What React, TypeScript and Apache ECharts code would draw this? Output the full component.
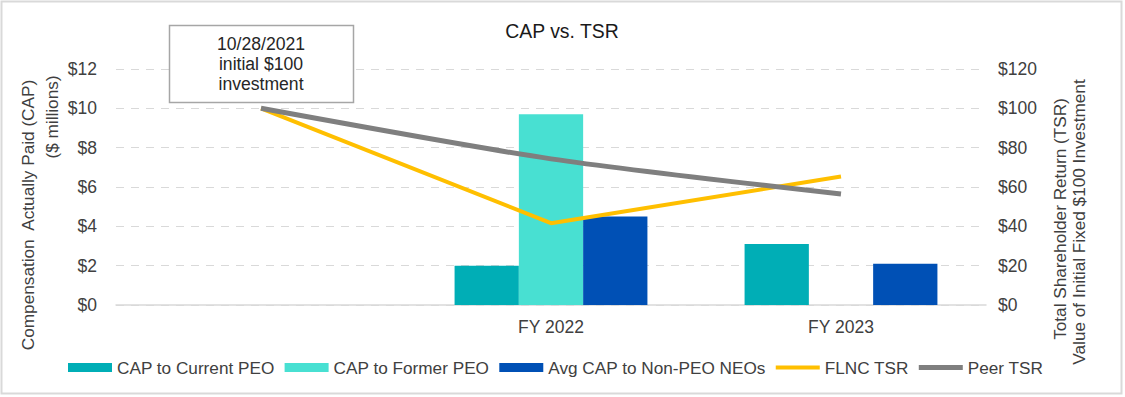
import React, { useEffect, useRef } from "react";
import * as echarts from "echarts";

const categories = ["", "FY 2022", "FY 2023"];
const capCurrentPEO = [null, 2.0, 3.1];
const capFormerPEO = [null, 9.7, 0];
const avgCapNonPEO = [null, 4.5, 2.1];
const flncTSR = [100, 41.6, 65.3];
const peerTSR = [100, 74.3, 56.4];
const leftTicks = { min: 0, max: 12, interval: 2 };
const rightTicks = { min: 0, max: 120, interval: 20 };

const FONT = "'Liberation Sans', Arial, sans-serif";
const TXT = "#404040";

export default function App() {
  const ref = useRef<HTMLDivElement>(null);
  useEffect(() => {
    document.body.style.margin = "0";
    const chart = echarts.init(ref.current!, null, { renderer: "svg" });
    const grid = { left: 116, right: 139, top: 69, bottom: 92 };
    chart.setOption({
      animation: false,
      textStyle: { fontFamily: FONT },
      grid,
      legend: {
        left: 63,
        top: 354,
        itemWidth: 44,
        itemHeight: 9,
        itemGap: 10,
        symbolKeepAspect: true,
        textStyle: { fontSize: 17.2, color: TXT, fontFamily: FONT },
        data: [
          { name: "CAP to Current PEO", icon: "rect" },
          { name: "CAP to Former PEO", icon: "rect" },
          { name: "Avg CAP to Non-PEO NEOs", icon: "rect" },
          { name: "FLNC TSR", icon: "path://M0,0 L44,0 L44,4 L0,4 Z" },
          { name: "Peer TSR", icon: "path://M0,0 L44,0 L44,5 L0,5 Z" },
        ],
      },
      xAxis: {
        type: "category",
        data: categories,
        axisLine: { lineStyle: { color: "#d9d9d9", width: 1.5 } },
        axisTick: { show: false },
        axisLabel: { fontSize: 17.5, color: TXT, margin: 13 },
      },
      yAxis: [
        {
          type: "value",
          ...leftTicks,
          axisLine: { show: false },
          axisTick: { show: false },
          axisLabel: { fontSize: 17.5, color: TXT, margin: 19, formatter: (v: number) => "$" + v },
          splitLine: { lineStyle: { color: "#d9d9d9", type: [8, 7], width: 1.2 } },
        },
        {
          type: "value",
          ...rightTicks,
          axisLine: { show: false },
          axisTick: { show: false },
          axisLabel: { fontSize: 17.5, color: TXT, margin: 12, formatter: (v: number) => "$" + v },
          splitLine: { show: false },
        },
      ],
      series: [
        {
          name: "CAP to Current PEO",
          type: "bar",
          data: capCurrentPEO,
          itemStyle: { color: "#00AEB6" },
          barGap: "0%",
          barCategoryGap: "33.5%",
        },
        { name: "CAP to Former PEO", type: "bar", data: capFormerPEO, itemStyle: { color: "#48E0D2" } },
        { name: "Avg CAP to Non-PEO NEOs", type: "bar", data: avgCapNonPEO, itemStyle: { color: "#0050B5" } },
        {
          name: "FLNC TSR",
          type: "line",
          yAxisIndex: 1,
          data: flncTSR,
          showSymbol: false,
          symbol: "none",
          lineStyle: { color: "#FFBF00", width: 4 },
          itemStyle: { color: "#FFBF00" },
        },
        {
          name: "Peer TSR",
          type: "line",
          yAxisIndex: 1,
          data: peerTSR,
          smooth: 0.25,
          showSymbol: false,
          symbol: "none",
          lineStyle: { color: "#7F7F7F", width: 5 },
          itemStyle: { color: "#7F7F7F" },
        },
      ],
      graphic: [
        {
          type: "rect",
          shape: { x: 1.5, y: 1.5, width: 1120, height: 392 },
          style: { fill: "none", stroke: "#d9d9d9", lineWidth: 2 },
          silent: true,
        },
        {
          type: "text",
          x: 562,
          y: 31,
          style: { text: "CAP vs. TSR", fontSize: 19.4, fill: "#1a1a1a", align: "center", verticalAlign: "middle", fontFamily: FONT },
        },
        {
          type: "rect",
          shape: { x: 169.5, y: 25.5, width: 184, height: 77 },
          style: { fill: "#fff", stroke: "#a6a6a6", lineWidth: 1.5 },
          z: 100,
        },
        {
          type: "text",
          x: 261,
          y: 64,
          z: 101,
          style: {
            text: "10/28/2021\ninitial $100\ninvestment",
            fontSize: 17.6,
            lineHeight: 20,
            fill: "#262626",
            align: "center",
            verticalAlign: "middle",
            fontFamily: FONT,
          },
        },
        {
          type: "text",
          x: 28,
          y: 215,
          rotation: Math.PI / 2,
          style: { text: "Compensation  Actually Paid (CAP)", fontSize: 17.2, fill: TXT, align: "center", verticalAlign: "middle", fontFamily: FONT },
        },
        {
          type: "text",
          x: 52,
          y: 117,
          rotation: Math.PI / 2,
          style: { text: "($ millions)", fontSize: 17.2, fill: TXT, align: "center", verticalAlign: "middle", fontFamily: FONT },
        },
        {
          type: "text",
          x: 1060,
          y: 219,
          rotation: Math.PI / 2,
          style: { text: "Total Shareholder Return (TSR)", fontSize: 17.2, fill: TXT, align: "center", verticalAlign: "middle", fontFamily: FONT },
        },
        {
          type: "text",
          x: 1079,
          y: 222,
          rotation: Math.PI / 2,
          style: { text: "Value of Initial Fixed $100 Investment", fontSize: 17.2, fill: TXT, align: "center", verticalAlign: "middle", fontFamily: FONT },
        },
      ],
    });
    return () => chart.dispose();
  }, []);
  return <div ref={ref} style={{ width: 1125, height: 397, background: "#fff" }} />;
}
